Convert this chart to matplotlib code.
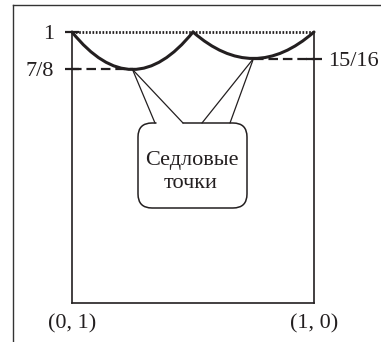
import numpy as np
import matplotlib
matplotlib.use("Agg")
import matplotlib.pyplot as plt
from matplotlib.path import Path
from matplotlib.patches import PathPatch, FancyBboxPatch
from matplotlib.lines import Line2D

# ---- data ----
arc_breaks = [0.0, 0.5, 1.0]          # x where the payoff curve touches 1
saddle_x = [0.25, 0.75]               # saddle-point strategies
saddle_values = [7 / 8, 15 / 16]      # values at the saddle points
top_value = 1.0
left_tick_values = [1.0, 7 / 8]
left_tick_labels = ["1", "7/8"]
right_tick_values = [15 / 16]
right_tick_labels = ["15/16"]
x_tick_values = [0.0, 1.0]
x_tick_labels = ["(0, 1)", "(1, 0)"]
callout_lines = ["Седловые", "точки"]

INK = "#231f20"
plt.rcParams["font.family"] = ["Liberation Serif", "DejaVu Serif"]
FS = 16

fig = plt.figure(figsize=(3.81, 3.42), dpi=100)
ax = fig.add_axes([72 / 381, 39 / 342, 242 / 381, 271 / 342])


def fwd(y):
    d = 1 - np.asarray(y, dtype=float)
    return -np.sign(d) * np.sqrt(np.abs(d))


def inv(u):
    u = np.asarray(u, dtype=float)
    return 1 - np.sign(-u) * u ** 2


ylo = float(inv(-271 / 106.0))
ax.set_yscale("function", functions=(fwd, inv))
ax.set_xlim(0, 1)
ax.set_ylim(ylo, top_value)

# arcs (quadratic Bezier in display space)
for i in range(2):
    x0, x1 = arc_breaks[i], arc_breaks[i + 1]
    m = saddle_values[i]
    c = 1 - 4 * (1 - m)
    path = Path([(x0, top_value), (saddle_x[i], c), (x1, top_value)],
                [Path.MOVETO, Path.CURVE3, Path.CURVE3])
    ax.add_patch(PathPatch(path, fill=False, lw=2.2, ec=INK, clip_on=False,
                           zorder=5, capstyle="round"))

# dotted top line at value 1
ax.plot([arc_breaks[0], arc_breaks[-1]], [top_value, top_value], color=INK,
        lw=2.0, linestyle=(0, (0.6, 0.6)), clip_on=False, zorder=4)

# dashed lines to saddle values
ax.plot([0, saddle_x[0]], [saddle_values[0]] * 2, color=INK, lw=1.6,
        linestyle=(0, (4.3, 2.2)), clip_on=False, zorder=4)
ax.plot([saddle_x[1], 1], [saddle_values[1]] * 2, color=INK, lw=1.6,
        linestyle=(0, (4.3, 2.2)), clip_on=False, zorder=4)

# spines
for s in ("left", "right", "bottom"):
    ax.spines[s].set_linewidth(1.2)
    ax.spines[s].set_color(INK)
ax.spines["top"].set_visible(False)

ax.set_yticks(left_tick_values)
ax.set_yticklabels(left_tick_labels, fontsize=FS, color=INK)
ax.yaxis.set_minor_locator(matplotlib.ticker.NullLocator())
ax.tick_params(axis="y", which="major", direction="inout", length=9.4,
               width=1.6, color=INK, pad=8.0)
ax.set_xticks(x_tick_values)
ax.set_xticklabels(x_tick_labels, fontsize=FS, color=INK)
ax.tick_params(axis="x", length=0, pad=8)
xl = ax.get_xticklabels()
xl[0].set_x(-0.015)
xl[1].set_x(0.985)

ax2 = ax.twinx()
ax2.set_yscale("function", functions=(fwd, inv))
ax2.set_ylim(ylo, top_value)
ax2.set_yticks(right_tick_values)
ax2.set_yticklabels(right_tick_labels, fontsize=FS, color=INK)
ax2.yaxis.set_minor_locator(matplotlib.ticker.NullLocator())
ax2.tick_params(axis="y", which="major", direction="inout", length=11.5,
                width=1.6, color=INK, pad=4.5)
for s in ax2.spines.values():
    s.set_visible(False)

# callout box
bx0, bx1 = (138 - 72) / 242, (247 - 72) / 242
by0, by1 = (303 - 208) / 271, (303 - 123) / 271
box = FancyBboxPatch((bx0, by0), bx1 - bx0, by1 - by0,
                     boxstyle="round,pad=0,rounding_size=0.058",
                     mutation_aspect=242 / 271, transform=ax.transAxes,
                     fc="white", ec=INK, lw=1.1, zorder=6)
ax.add_patch(box)
# gap of the left wedge
gl, gr = (155 - 72) / 242, (183 - 72) / 242
ax.plot([gl + 0.004, gr - 0.004], [by1, by1], color="white", lw=2.5,
        transform=ax.transAxes, zorder=7, solid_capstyle="butt")

bases = [[(155 - 72) / 242, (183 - 72) / 242],
         [(202 - 72) / 242, (230 - 72) / 242]]
for i in range(2):
    for bxp in bases[i]:
        ax.annotate("", xy=(saddle_x[i], saddle_values[i]), xycoords="data",
                    xytext=(bxp, by1), textcoords="axes fraction",
                    arrowprops=dict(arrowstyle="-", shrinkA=0, shrinkB=0,
                                    lw=0.9, color=INK), zorder=8)

ax.text(0.496, (303 - 165) / 271, callout_lines[0], transform=ax.transAxes,
        ha="center", va="baseline", fontsize=FS, color=INK, zorder=9)
ax.text(0.490, (303 - 188) / 271, callout_lines[1], transform=ax.transAxes,
        ha="center", va="baseline", fontsize=FS, color=INK, zorder=9)

# outer frame (left and top edges)
fx, fy = 13 / 381, 1 - 5 / 342
fig.add_artist(Line2D([fx, fx], [0, fy], transform=fig.transFigure,
                      color="#333333", lw=1.0))
fig.add_artist(Line2D([fx, 1], [fy, fy], transform=fig.transFigure,
                      color="#333333", lw=1.0))

fig.savefig("out.png", dpi=100)
